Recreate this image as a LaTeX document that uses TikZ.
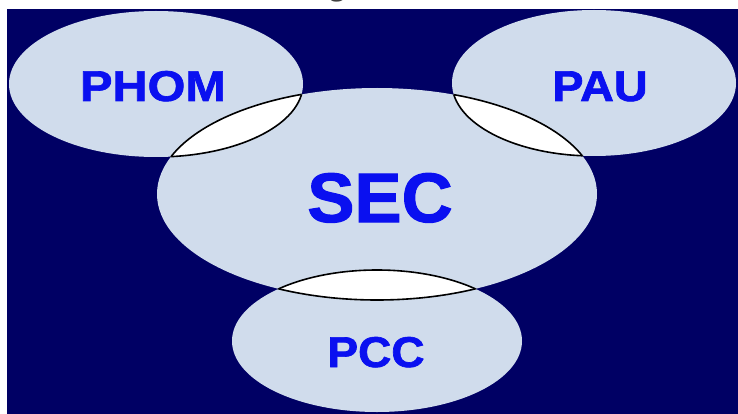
\documentclass[tikz,border=0pt]{standalone}
\usepackage{fontspec}
\setmainfont{Liberation Sans}[BoldFeatures={FakeBold=1.5}]
\newfontfamily\serifbold{Liberation Serif}
\definecolor{navy}{HTML}{000064}
\definecolor{pale}{HTML}{D0DCEC}
\definecolor{labelblue}{HTML}{0A10F0}
\tikzset{
  lbl/.style={font=\bfseries, text=labelblue, inner sep=0pt, anchor=base},
  lensline/.style={draw=black, line width=1.6pt}
}
\def\phom{(156,84) ellipse [x radius=147, y radius=73]}
\def\pau{(594,83) ellipse [x radius=142, y radius=73]}
\def\sec{(377,194) ellipse [x radius=220, y radius=106]}
\def\pcc{(377,341) ellipse [x radius=145, y radius=71]}
\begin{document}
\begin{tikzpicture}[x=1pt,y=-1pt]
\useasboundingbox (0,0) rectangle (738,414);
\fill[white] (0,0) rectangle (738,414);
\fill[navy] (7,9) rectangle (738,414);
% clipped fragment of title
\begin{scope}
  \clip (0,0) rectangle (738,9);
  \node[inner sep=0pt, anchor=base, text=black!75, font=\serifbold\bfseries\fontsize{30}{30}\selectfont] (title) at (337,-4) {g};
\end{scope}
% ellipses
\fill[pale] \phom;
\fill[pale] \pau;
\fill[pale] \sec;
\fill[pale] \pcc;
% lenses
\foreach \a/\b in {\phom/\sec, \pau/\sec, \sec/\pcc}{
  \begin{scope}
    \clip \a;
    \fill[white] \b;
    \draw[lensline] \b;
  \end{scope}
  \begin{scope}
    \clip \b;
    \draw[lensline] \a;
  \end{scope}
}
% labels
\node[lbl, font=\bfseries\fontsize{43}{43}\selectfont] (PHOM) at (153,101) {\scalebox{1.13}[1]{PHOM}};
\node[lbl, font=\bfseries\fontsize{43}{43}\selectfont] (PAU) at (600,101) {\scalebox{1.09}[1]{PAU}};
\node[lbl, font=\bfseries\fontsize{70}{70}\selectfont] (SEC) at (380,222) {\scalebox{1.01}[1]{SEC}};
\node[lbl, font=\bfseries\fontsize{43}{43}\selectfont] (PCC) at (376,367) {\scalebox{1.07}[1]{PCC}};
\end{tikzpicture}
\end{document}
